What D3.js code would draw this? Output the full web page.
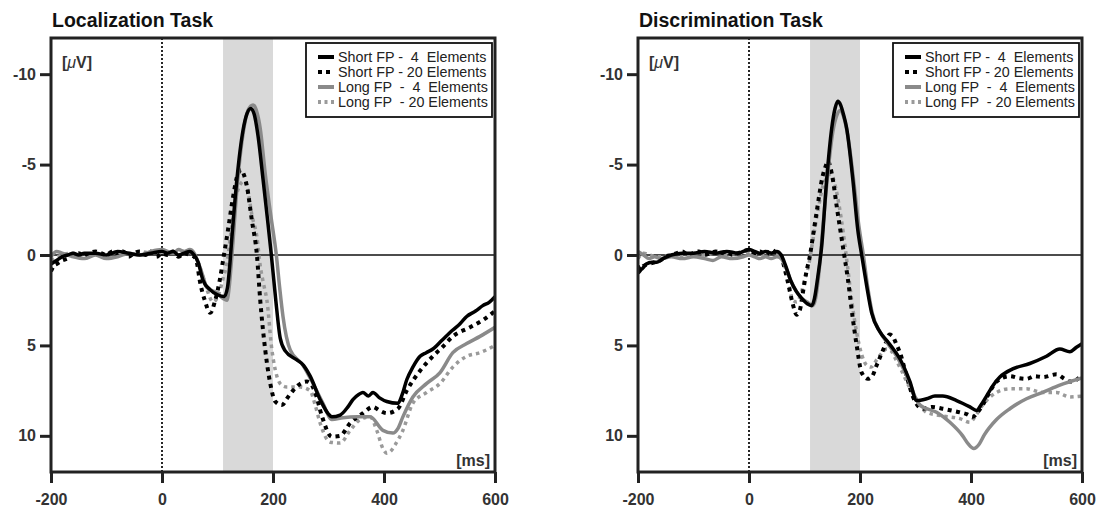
<!DOCTYPE html>
<html><head><meta charset="utf-8">
<script src="https://cdn.jsdelivr.net/npm/d3@7"></script>
<style>
body{margin:0;background:#fff;}
svg{display:block;font-family:Arial,"Liberation Sans",sans-serif;}
</style></head>
<body><svg id="c" width="1101" height="509"></svg>
<script>
// ---------- data ----------
const panelTitles = ["Localization Task", "Discrimination Task"];
const xTicks = [-200, 0, 200, 400, 600];
const yTicks = [-10, -5, 0, 5, 10];
const seriesNames = ["Short FP -  4  Elements", "Short FP - 20 Elements", "Long FP  -  4  Elements", "Long FP  - 20 Elements"];
const shadeWindow = [110, 200];

// Localization task: [ms, µV]
const locShort4 = [[-200,0.5],[-190,0.3],[-180,0.1],[-170,0.0],[-160,-0.1],[-150,0.0],[-140,-0.1],[-120,-0.1],[-100,0.0],[-80,-0.2],[-60,-0.1],[-40,0.0],[-20,-0.1],[0,-0.2],[10,-0.1],[20,-0.2],[30,0.0],[40,-0.1],[50,-0.2],[58,0.0],[65,0.4],[74,1.4],[86,1.9],[100,2.2],[112,2.3],[118,1.8],[122,0.6],[126,-1.0],[135,-4.2],[146,-6.9],[153,-7.8],[160,-8.1],[166,-7.8],[173,-6.6],[182,-4.2],[190,-2.0],[197,0.0],[205,2.5],[213,4.6],[222,5.3],[243,5.8],[255,6.1],[267,6.7],[285,8.0],[300,8.8],[306,8.95],[321,8.85],[335,8.4],[344,8.0],[355,7.7],[362,7.6],[372,7.8],[380,7.6],[392,7.9],[405,8.1],[425,8.2],[433,7.7],[441,6.9],[452,6.2],[465,5.6],[476,5.4],[488,5.2],[505,4.7],[524,4.15],[537,3.8],[549,3.4],[565,3.1],[578,2.8],[590,2.6],[600,2.3]];
const locShort20 = [[-200,0.9],[-195,0.6],[-190,0.5],[-180,0.3],[-170,0.2],[-160,0.0],[-150,-0.1],[-140,0.1],[-130,-0.1],[-120,-0.2],[-110,-0.1],[-100,0.0],[-90,-0.2],[-80,0.0],[-70,-0.2],[-60,0.1],[-50,-0.1],[-40,-0.2],[-30,0.0],[-20,-0.2],[-10,0.1],[0,-0.1],[10,0.0],[20,-0.2],[30,0.1],[40,-0.1],[50,0.0],[58,0.1],[63,0.45],[68,1.4],[77,2.5],[87,3.2],[95,2.6],[104,1.4],[110,0.3],[119,-1.4],[128,-3.2],[137,-4.5],[143,-4.7],[148,-4.4],[153,-3.8],[162,-1.9],[171,0.0],[177,2.5],[186,5.25],[195,7.1],[204,8.1],[216,8.3],[226,7.9],[236,7.5],[250,7.1],[261,7.0],[270,7.2],[276,7.6],[288,8.9],[306,10.05],[321,10.0],[339,9.3],[362,8.75],[380,8.4],[392,8.6],[405,8.75],[425,8.5],[441,7.5],[465,6.4],[488,5.6],[505,5.1],[524,4.5],[555,4.0],[578,3.6],[600,3.1]];
const locLong4 = [[-200,0.1],[-190,-0.2],[-180,-0.1],[-160,0.1],[-140,0.2],[-120,0.0],[-100,0.2],[-80,0.1],[-60,-0.1],[-40,0.0],[-20,-0.2],[0,-0.3],[10,-0.2],[20,-0.1],[30,-0.3],[40,-0.2],[50,-0.3],[58,-0.1],[65,0.4],[72,1.0],[81,1.8],[99,2.1],[110,2.4],[117,2.5],[121,1.8],[126,0.0],[136,-4.0],[147,-6.9],[155,-8.0],[164,-8.3],[170,-8.0],[177,-7.0],[186,-4.5],[196,-2.2],[206,0.0],[212,1.8],[218,3.4],[231,5.25],[254,6.1],[272,7.1],[290,8.2],[306,9.1],[326,9.0],[351,8.95],[375,8.95],[398,9.7],[416,9.85],[425,9.6],[434,8.95],[452,7.85],[477,7.1],[501,6.5],[524,5.4],[549,4.9],[573,4.5],[600,4.0]];
const locLong20 = [[-200,0.3],[-180,0.0],[-160,-0.1],[-140,0.1],[-120,-0.1],[-100,0.1],[-80,-0.1],[-60,0.0],[-40,-0.2],[-20,-0.1],[0,-0.2],[20,-0.1],[40,-0.2],[55,-0.1],[65,0.4],[74,1.2],[81,1.9],[92,2.6],[104,2.0],[110,1.3],[117,0.45],[124,-1.2],[132,-3.0],[141,-3.9],[148,-4.1],[154,-3.7],[162,-2.2],[171,-1.0],[177,0.6],[183,1.6],[189,2.5],[198,5.25],[207,6.7],[216,7.2],[225,7.3],[249,7.3],[267,7.5],[276,8.3],[285,9.3],[303,10.35],[321,10.4],[339,9.7],[357,9.1],[375,8.95],[387,9.7],[398,10.7],[405,10.96],[412,10.85],[420,10.5],[434,9.7],[452,8.2],[477,7.6],[501,7.1],[524,6.2],[549,5.6],[573,5.4],[600,5.0]];

// Discrimination task: [ms, µV]
const disShort4 = [[-200,0.6],[-195,0.8],[-185,0.5],[-175,0.4],[-166,0.4],[-155,0.2],[-140,0.0],[-120,-0.1],[-100,-0.1],[-80,-0.2],[-60,-0.1],[-40,-0.2],[-20,-0.1],[0,-0.3],[10,-0.2],[20,-0.1],[30,-0.2],[40,-0.1],[50,-0.2],[58,0.0],[65,0.5],[75,1.4],[85,2.0],[95,2.4],[105,2.7],[113,2.8],[118,2.4],[124,1.2],[131,-0.5],[140,-4.2],[149,-7.0],[155,-8.1],[160,-8.5],[165,-8.3],[170,-7.8],[176,-7.0],[187,-4.2],[196,-1.4],[203,0.0],[212,1.7],[221,3.2],[236,4.25],[250,4.8],[260,5.2],[272,5.75],[290,7.0],[302,8.05],[320,7.95],[335,7.8],[349,7.8],[374,8.05],[398,8.4],[410,8.6],[418,8.3],[428,7.8],[440,7.2],[452,6.75],[475,6.3],[506,6.0],[536,5.6],[560,5.2],[578,5.35],[590,5.1],[600,4.9]];
const disShort20 = [[-200,1.0],[-195,0.8],[-190,0.6],[-180,0.5],[-170,0.4],[-160,0.3],[-150,0.1],[-140,0.0],[-130,-0.1],[-120,-0.2],[-110,0.0],[-100,-0.1],[-90,-0.2],[-80,0.0],[-70,-0.1],[-60,-0.2],[-50,-0.1],[-40,-0.2],[-30,0.0],[-20,-0.1],[-10,-0.2],[0,-0.3],[10,-0.1],[20,-0.2],[30,0.0],[40,-0.3],[50,-0.1],[57,0.0],[63,0.6],[70,1.5],[78,2.6],[86,3.3],[92,3.0],[97,2.1],[103,1.0],[110,0.0],[116,-1.2],[122,-2.4],[133,-4.4],[138,-4.9],[142,-5.2],[147,-4.8],[152,-4.0],[158,-2.7],[169,-0.5],[178,1.3],[187,3.5],[194,5.0],[203,6.5],[214,6.85],[222,6.7],[230,6.1],[245,5.0],[253,4.4],[259,4.5],[265,4.9],[272,5.4],[284,6.7],[295,7.8],[313,8.5],[330,8.4],[349,8.5],[365,8.6],[380,8.7],[392,8.8],[403,8.95],[412,8.7],[421,8.3],[435,7.5],[446,7.0],[470,6.7],[485,6.8],[500,6.85],[515,6.7],[529,6.75],[554,6.6],[566,6.8],[578,7.0],[590,6.9],[600,6.6]];
const disLong4 = [[-200,-0.2],[-190,0.0],[-180,0.2],[-170,0.1],[-160,0.2],[-140,0.1],[-120,0.2],[-100,0.1],[-80,0.2],[-65,0.3],[-50,0.1],[-30,0.2],[-10,0.1],[0,0.0],[10,0.1],[20,0.2],[30,0.1],[40,0.2],[50,0.1],[58,0.2],[65,0.6],[75,1.4],[85,2.0],[95,2.4],[105,2.6],[115,2.8],[120,2.4],[126,1.0],[133,-1.5],[142,-4.5],[151,-6.8],[158,-7.7],[165,-8.0],[171,-7.6],[178,-6.6],[189,-4.0],[198,-1.6],[206,0.0],[214,1.8],[222,3.2],[237,4.3],[250,4.9],[262,5.4],[275,6.1],[290,7.1],[300,7.9],[308,8.3],[338,8.7],[362,9.25],[385,10.0],[395,10.45],[405,10.7],[415,10.45],[424,9.95],[446,9.1],[470,8.5],[500,7.95],[529,7.6],[560,7.2],[600,6.8]];
const disLong20 = [[-200,0.2],[-190,-0.1],[-180,0.0],[-160,0.1],[-140,0.0],[-120,0.1],[-100,-0.1],[-80,0.0],[-60,-0.1],[-40,0.0],[-20,-0.1],[0,-0.1],[20,0.0],[40,-0.1],[55,0.0],[62,0.4],[70,1.3],[79,2.5],[86,2.6],[92,2.3],[100,1.4],[108,0.5],[115,-0.8],[124,-2.4],[133,-3.8],[141,-4.3],[148,-4.5],[154,-4.0],[162,-2.8],[170,-1.2],[177,0.5],[185,2.5],[194,4.3],[203,5.5],[212,6.1],[220,6.2],[230,5.8],[240,5.4],[248,5.2],[256,5.3],[265,5.8],[275,6.4],[284,7.0],[300,7.9],[320,8.7],[349,8.9],[380,9.05],[398,9.25],[408,8.9],[421,8.3],[446,7.6],[470,7.4],[500,7.4],[529,7.6],[554,7.6],[578,7.85],[600,7.8]];

const panelSeries = [
  [locShort4, locShort20, locLong4, locLong20],
  [disShort4, disShort20, disLong4, disLong20]
];

// ---------- styles ----------
const seriesStyle = [
  {color:"#000", width:3.5, dash:null},
  {color:"#000", width:4, dash:"4,4.5"},
  {color:"#8a8a8a", width:3.5, dash:null},
  {color:"#9a9a9a", width:3.5, dash:"3.5,4"}
];
const drawOrder = [3, 1, 2, 0];
const panels = [{x0:51, x1:495}, {x0:638, x1:1082}];
const yTop = 38, yBot = 472;
const labelFont = "16px";

const svg = d3.select("#c");
const y = d3.scaleLinear().domain([-12, 12]).range([yTop, yBot]);

panels.forEach((p, pi) => {
  const x = d3.scaleLinear().domain([-200, 600]).range([p.x0, p.x1]);
  const g = svg.append("g");
  const clipId = "clip" + pi;
  g.append("clipPath").attr("id", clipId).append("rect")
    .attr("x", p.x0).attr("y", yTop).attr("width", p.x1 - p.x0).attr("height", yBot - yTop);

  // shaded window
  g.append("rect").attr("x", x(shadeWindow[0])).attr("y", yTop)
    .attr("width", x(shadeWindow[1]) - x(shadeWindow[0])).attr("height", yBot - yTop)
    .attr("fill", "#d9d9d9");
  // zero line
  g.append("line").attr("x1", p.x0).attr("x2", p.x1).attr("y1", y(0)).attr("y2", y(0))
    .attr("stroke", "#111").attr("stroke-width", 1.6);
  // stimulus onset dotted line
  g.append("line").attr("x1", x(0)).attr("x2", x(0)).attr("y1", yTop).attr("y2", yBot)
    .attr("stroke", "#111").attr("stroke-width", 1.8).attr("stroke-dasharray", "2,2");

  const line = d3.line().x(d => x(d[0])).y(d => y(d[1])).curve(d3.curveMonotoneX);
  const cg = g.append("g").attr("clip-path", `url(#${clipId})`);
  drawOrder.forEach(si => {
    const st = seriesStyle[si];
    cg.append("path").datum(panelSeries[pi][si]).attr("d", line)
      .attr("fill", "none").attr("stroke", st.color).attr("stroke-width", st.width)
      .attr("stroke-linejoin", "round")
      .attr("stroke-dasharray", st.dash);
  });

  // frame
  g.append("rect").attr("x", p.x0).attr("y", yTop).attr("width", p.x1 - p.x0).attr("height", yBot - yTop)
    .attr("fill", "none").attr("stroke", "#222").attr("stroke-width", 3);

  // axes
  const ya = g.append("g").attr("transform", `translate(${p.x0},0)`)
    .call(d3.axisLeft(y).tickValues(yTicks).tickSize(11).tickPadding(4).tickFormat(d => String(d)));
  const xa = g.append("g").attr("transform", `translate(0,${yBot})`)
    .call(d3.axisBottom(x).tickValues(xTicks).tickSize(11).tickPadding(11).tickFormat(d => String(d)));
  [ya, xa].forEach(a => {
    a.select(".domain").remove();
    a.selectAll(".tick line").attr("stroke", "#222").attr("stroke-width", 3);
    a.selectAll(".tick text").attr("fill", "#333").style("font-size", labelFont).style("font-weight", "bold")
      .style("font-family", "Arial, 'Liberation Sans', sans-serif");
  });

  // title
  g.append("text").attr("x", p.x0 + 1).attr("y", 27).text(panelTitles[pi])
    .attr("fill", "#111").style("font-size", "19.5px").style("font-weight", "bold");

  // unit labels
  const uv = g.append("text").attr("x", p.x0 + 11).attr("y", 68)
    .attr("fill", "#333").style("font-size", labelFont).style("font-weight", "bold");
  uv.append("tspan").text("[");
  uv.append("tspan").text("\u03bc").style("font-style", "italic").style("font-weight", "normal");
  uv.append("tspan").text("V]");
  g.append("text").attr("x", p.x1 - 5).attr("y", 466).attr("text-anchor", "end").text("[ms]")
    .attr("fill", "#333").style("font-size", labelFont).style("font-weight", "bold");

  // legend
  const lx = p.x0 + 255, ly = 43;
  const lg = g.append("g");
  lg.append("rect").attr("x", lx).attr("y", ly).attr("width", 186).attr("height", 74)
    .attr("fill", "#fff").attr("stroke", "#111").attr("stroke-width", 1.8);
  seriesNames.forEach((name, i) => {
    const st = seriesStyle[i];
    const ry = ly + 14 + i * 15;
    lg.append("line").attr("x1", lx + 12).attr("x2", lx + 28).attr("y1", ry).attr("y2", ry)
      .attr("stroke", st.color).attr("stroke-width", 4)
      .attr("stroke-dasharray", st.dash ? (i === 1 ? "4,4" : "3,3.5") : null);
    lg.append("text").attr("x", lx + 32).attr("y", ry + 5).text(name)
      .attr("xml:space", "preserve").style("white-space", "pre")
      .attr("fill", "#222").style("font-size", "14.3px");
  });
});
</script></body></html>
